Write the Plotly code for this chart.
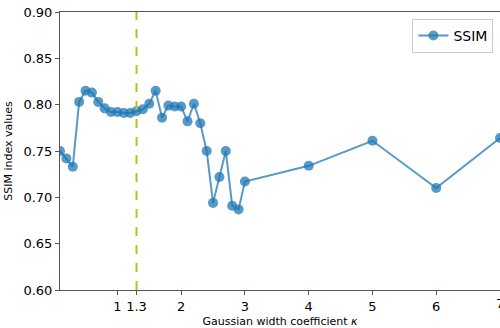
import plotly.graph_objects as go

kappa = [0.1, 0.2, 0.3, 0.4, 0.5, 0.6, 0.7, 0.8, 0.9, 1.0, 1.1, 1.2, 1.3, 1.4, 1.5,
         1.6, 1.7, 1.8, 1.9, 2.0, 2.1, 2.2, 2.3, 2.4, 2.5, 2.6, 2.7, 2.8, 2.9, 3.0,
         4.0, 5.0, 6.0, 7.0]
ssim = [0.750, 0.742, 0.733, 0.803, 0.815, 0.813, 0.803, 0.796, 0.792, 0.792, 0.791,
        0.791, 0.793, 0.795, 0.801, 0.815, 0.786, 0.799, 0.798, 0.798, 0.782, 0.801,
        0.780, 0.750, 0.694, 0.722, 0.750, 0.691, 0.687, 0.717,
        0.734, 0.761, 0.710, 0.764]
x_ticks = [1, 1.3, 2, 3, 4, 5, 6, 7]
x_ticktext = ["1", "1.3", "2", "3", "4", "5", "6", "7"]
y_ticks = [0.60, 0.65, 0.70, 0.75, 0.80, 0.85, 0.90]
marked_kappa = 1.3

fig = go.Figure()
fig.add_trace(go.Scatter(
    x=kappa, y=ssim, mode="lines+markers", name="SSIM",
    line=dict(color="rgba(31,119,180,0.75)", width=2),
    marker=dict(color="rgba(31,119,180,0.75)", size=10),
))
fig.add_shape(type="line", x0=marked_kappa, x1=marked_kappa, y0=0, y1=1,
              xref="x", yref="paper",
              line=dict(color="#bcbd22", width=2, dash="dash"))
# last tick label sits on the canvas edge; plotly drops it, so draw it as text
fig.add_annotation(x=x_ticks[-1], y=0, xref="x", yref="paper", yanchor="top",
                   xanchor="center", yshift=-4, text=x_ticktext[-1], showarrow=False,
                   font=dict(family="DejaVu Sans", size=13, color="black"))

axis_common = dict(showline=True, linecolor="#555", linewidth=1, mirror=True,
                   ticks="outside", ticklen=4, tickcolor="#555", showgrid=False,
                   zeroline=False, tickfont=dict(family="DejaVu Sans", size=13, color="black"))
fig.update_layout(
    width=500, height=328,
    margin=dict(l=60, r=0, t=12, b=38),
    paper_bgcolor="white", plot_bgcolor="white",
    font=dict(family="DejaVu Sans", color="black"),
    xaxis=dict(range=[0.1, 7.0], tickvals=x_ticks, ticktext=x_ticktext,
               title=dict(text="Gaussian width coefficient <i>κ</i>", font=dict(size=11), standoff=4),
               **axis_common),
    yaxis=dict(range=[0.60, 0.90], tickvals=y_ticks, tickformat=".2f",
               title=dict(text="SSIM index values", font=dict(size=11), standoff=8),
               **axis_common),
    legend=dict(x=0.985, y=0.975, xanchor="right", yanchor="top",
                bgcolor="rgba(255,255,255,0.8)", bordercolor="#ccc", borderwidth=1,
                font=dict(size=14)),
    showlegend=True,
)
fig.write_html("out.html")
